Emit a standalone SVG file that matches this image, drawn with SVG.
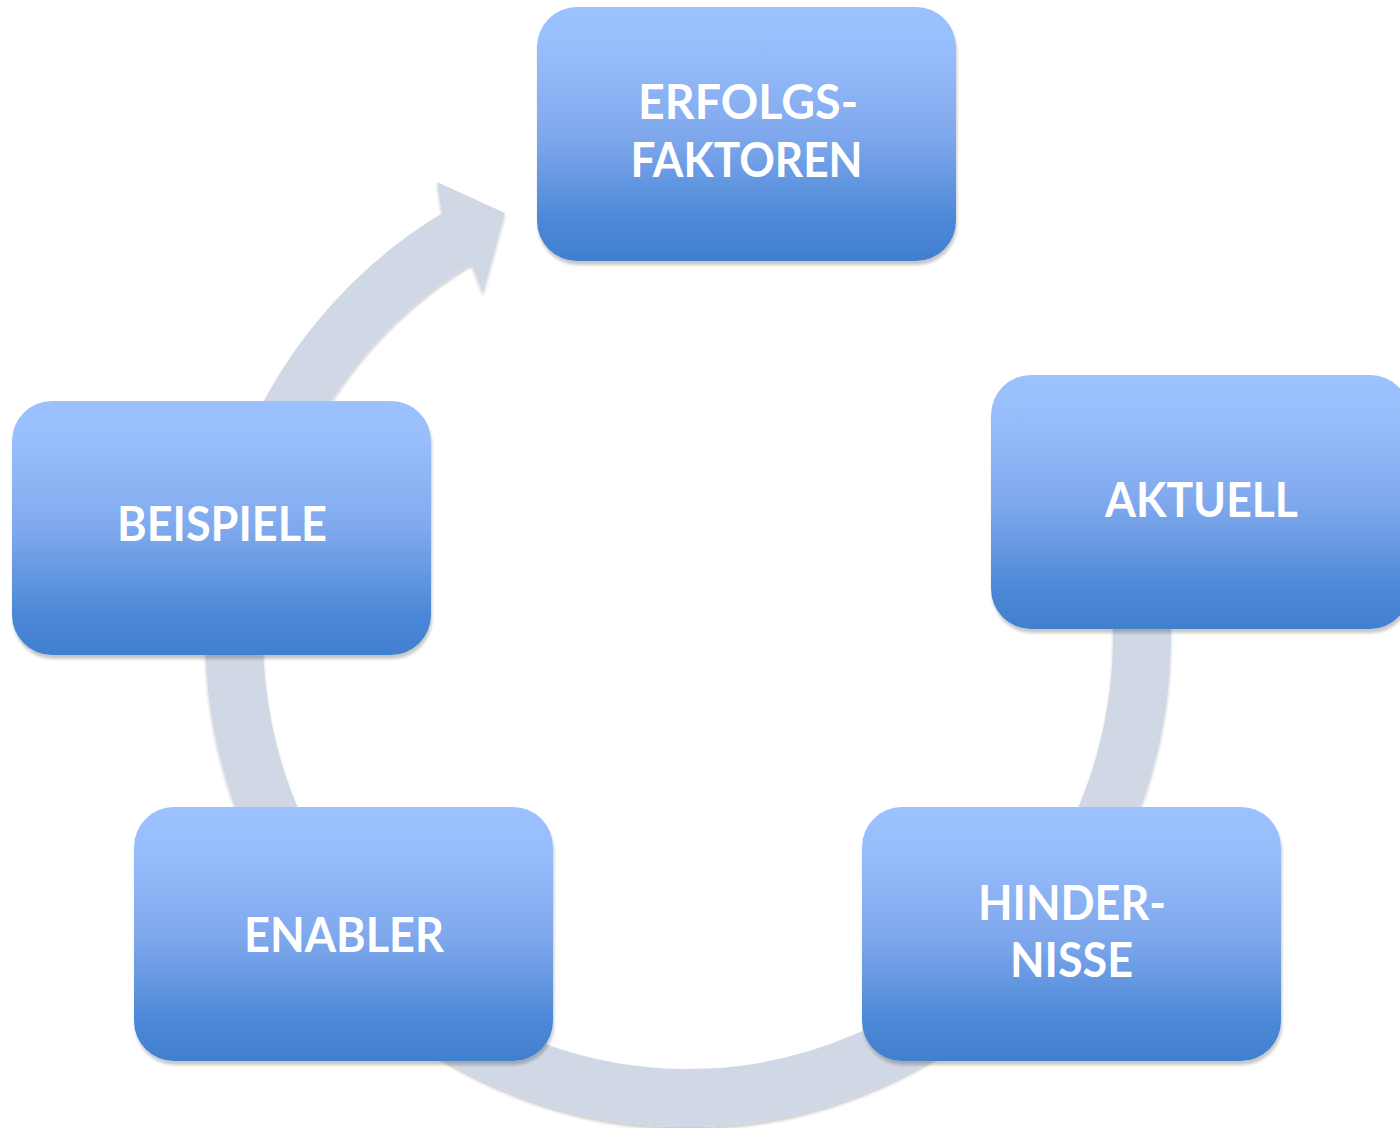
<svg xmlns="http://www.w3.org/2000/svg" width="1400" height="1128" viewBox="0 0 1400 1128">
  <defs>
    <linearGradient id="boxGrad" x1="0" y1="0" x2="0" y2="1">
      <stop offset="0" stop-color="#9CC1FF"/>
      <stop offset="0.15" stop-color="#99BEFC"/>
      <stop offset="0.5" stop-color="#80A9ED"/>
      <stop offset="0.85" stop-color="#4B87D6"/>
      <stop offset="1" stop-color="#4180CF"/>
    </linearGradient>
    <filter id="shadow" x="-10%" y="-10%" width="120%" height="125%">
      <feGaussianBlur in="SourceAlpha" stdDeviation="1.5"/>
      <feOffset dx="1" dy="4" result="off"/>
      <feComponentTransfer>
        <feFuncA type="linear" slope="0.22"/>
      </feComponentTransfer>
      <feMerge>
        <feMergeNode/>
        <feMergeNode in="SourceGraphic"/>
      </feMerge>
    </filter>
    <filter id="ringShadow" x="-10%" y="-10%" width="120%" height="125%">
      <feGaussianBlur in="SourceAlpha" stdDeviation="1.5"/>
      <feOffset dx="0" dy="3" result="off"/>
      <feComponentTransfer>
        <feFuncA type="linear" slope="0.2"/>
      </feComponentTransfer>
      <feMerge>
        <feMergeNode/>
        <feMergeNode in="SourceGraphic"/>
      </feMerge>
    </filter>
  </defs>
  <style>
    .box { fill: url(#boxGrad); filter: url(#shadow); }
    .lbl { font-family: Lato, "Open Sans", "Liberation Sans", sans-serif; font-weight: 700; font-size: 47px; fill: #FFFFFF; text-anchor: middle; }
    .ring { fill: none; stroke: #D0D8E6; stroke-width: 58; }
    .head { fill: #D0D8E6; }
  </style>

  <g id="connectors" filter="url(#ringShadow)">
    <path class="ring" d="M 1114.6 478 A 454 462 0 1 1 458.3 237.5"/>
    <polygon class="head" points="441.7,213.6 437,182 505,213 483,293 471.5,263.4"/>
  </g>

  <g id="node-erfolgsfaktoren">
    <rect class="box" x="537" y="7" width="419" height="254" rx="40" ry="40"/>
    <text class="lbl" x="748" y="119" textLength="220" lengthAdjust="spacingAndGlyphs">ERFOLGS-</text>
    <text class="lbl" x="746.5" y="177" textLength="232" lengthAdjust="spacingAndGlyphs">FAKTOREN</text>
  </g>

  <g id="node-aktuell">
    <rect class="box" x="991" y="375" width="419" height="254" rx="40" ry="40"/>
    <text class="lbl" x="1201.5" y="517" textLength="193" lengthAdjust="spacingAndGlyphs">AKTUELL</text>
  </g>

  <g id="node-hindernisse">
    <rect class="box" x="862" y="807" width="419" height="254" rx="40" ry="40"/>
    <text class="lbl" x="1072" y="920" textLength="188" lengthAdjust="spacingAndGlyphs">HINDER-</text>
    <text class="lbl" x="1071.5" y="977" textLength="123" lengthAdjust="spacingAndGlyphs">NISSE</text>
  </g>

  <g id="node-enabler">
    <rect class="box" x="134" y="807" width="419" height="254" rx="40" ry="40"/>
    <text class="lbl" x="344" y="952" textLength="200" lengthAdjust="spacingAndGlyphs">ENABLER</text>
  </g>

  <g id="node-beispiele">
    <rect class="box" x="12" y="401" width="419" height="254" rx="40" ry="40"/>
    <text class="lbl" x="222" y="541" textLength="210" lengthAdjust="spacingAndGlyphs">BEISPIELE</text>
  </g>
</svg>
